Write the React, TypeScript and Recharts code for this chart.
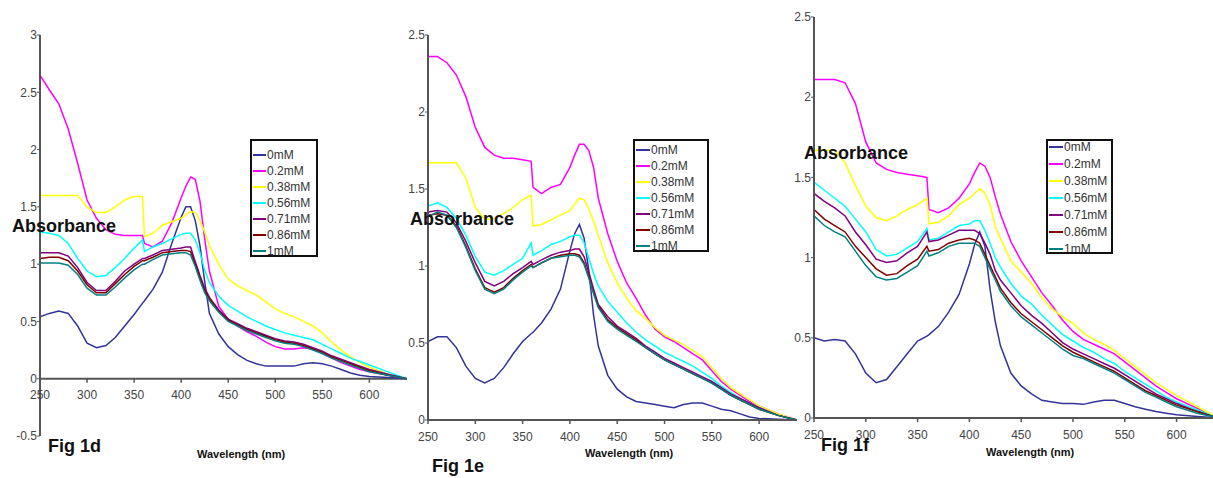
import React from 'react';
import { LineChart, Line, XAxis, YAxis, ReferenceLine, Legend } from 'recharts';

// wavelength grid (nm), shared by all three figures
const WAVELENGTHS = [
  250, 260, 270, 280, 290, 300, 310, 320, 330, 340, 350,
  359, 361,
  370, 380, 390, 400,
  405, 410, 415, 420, 425, 430,
  440, 450, 460, 470, 480, 490, 500, 510, 520, 530, 540, 550, 560, 570, 580, 590, 600,
  620, 640,
];

const SERIES_LABELS = ['0mM', '0.2mM', '0.38mM', '0.56mM', '0.71mM', '0.86mM', '1mM'];
const SERIES_COLORS = ['#333399', '#ff00ff', '#ffff00', '#00ffff', '#800080', '#800000', '#008080'];
const X_TICKS = [250, 300, 350, 400, 450, 500, 550, 600];
const Y_TICKS_D = [-0.5, 0, 0.5, 1, 1.5, 2, 2.5, 3];
const Y_TICKS_EF = [0, 0.5, 1, 1.5, 2, 2.5];

// Fig 1d
const d0 = [0.54, 0.57, 0.59, 0.57, 0.46, 0.31, 0.27, 0.29, 0.36, 0.46, 0.56, 0.66, 0.68, 0.78, 0.93, 1.18, 1.41, 1.5, 1.5, 1.38, 1.16, 0.85, 0.57, 0.39, 0.28, 0.21, 0.16, 0.13, 0.11, 0.11, 0.11, 0.11, 0.13, 0.14, 0.13, 0.11, 0.08, 0.05, 0.03, 0.02, 0.01, 0];
const d02 = [2.65, 2.52, 2.4, 2.18, 1.88, 1.56, 1.4, 1.3, 1.26, 1.25, 1.25, 1.25, 1.18, 1.15, 1.2, 1.36, 1.58, 1.68, 1.76, 1.74, 1.55, 1.22, 0.94, 0.63, 0.52, 0.46, 0.41, 0.37, 0.32, 0.28, 0.26, 0.26, 0.27, 0.26, 0.22, 0.18, 0.14, 0.11, 0.08, 0.06, 0.03, 0];
const d038 = [1.6, 1.6, 1.6, 1.6, 1.6, 1.5, 1.45, 1.45, 1.5, 1.56, 1.59, 1.59, 1.24, 1.27, 1.34, 1.37, 1.4, 1.43, 1.46, 1.45, 1.38, 1.28, 1.16, 1.0, 0.87, 0.81, 0.77, 0.73, 0.67, 0.61, 0.57, 0.54, 0.5, 0.46, 0.4, 0.32, 0.25, 0.19, 0.14, 0.1, 0.04, 0];
const d056 = [1.28, 1.27, 1.25, 1.18, 1.05, 0.94, 0.89, 0.9, 0.97, 1.05, 1.14, 1.21, 1.11, 1.15, 1.18, 1.22, 1.26, 1.27, 1.27, 1.21, 1.1, 0.95, 0.84, 0.72, 0.64, 0.59, 0.54, 0.5, 0.46, 0.43, 0.4, 0.38, 0.36, 0.34, 0.3, 0.26, 0.22, 0.18, 0.15, 0.12, 0.06, 0];
const d071 = [1.1, 1.1, 1.1, 1.07, 0.97, 0.84, 0.77, 0.77, 0.85, 0.94, 1.0, 1.05, 1.05, 1.08, 1.12, 1.13, 1.14, 1.15, 1.15, 1.02, 0.9, 0.79, 0.71, 0.6, 0.52, 0.48, 0.44, 0.41, 0.38, 0.35, 0.33, 0.32, 0.3, 0.27, 0.24, 0.2, 0.17, 0.14, 0.11, 0.08, 0.04, 0];
const d086 = [1.05, 1.06, 1.06, 1.03, 0.94, 0.82, 0.75, 0.75, 0.83, 0.91, 0.98, 1.03, 1.03, 1.06, 1.1, 1.11, 1.12, 1.12, 1.11, 1.0, 0.88, 0.77, 0.7, 0.59, 0.51, 0.47, 0.43, 0.4, 0.37, 0.34, 0.32, 0.31, 0.29, 0.26, 0.23, 0.19, 0.16, 0.13, 0.1, 0.07, 0.03, 0];
const d1 = [1.01, 1.01, 1.01, 0.99, 0.91, 0.79, 0.73, 0.73, 0.8, 0.88, 0.95, 1.0, 1.0, 1.04, 1.08, 1.09, 1.1, 1.1, 1.08, 0.98, 0.86, 0.75, 0.68, 0.58, 0.5, 0.46, 0.42, 0.39, 0.36, 0.33, 0.31, 0.3, 0.28, 0.25, 0.22, 0.18, 0.15, 0.12, 0.09, 0.06, 0.03, 0];

// Fig 1e
const e0 = [0.51, 0.54, 0.54, 0.47, 0.35, 0.27, 0.24, 0.27, 0.34, 0.43, 0.51, 0.56, 0.57, 0.63, 0.72, 0.85, 1.1, 1.21, 1.27, 1.18, 0.97, 0.68, 0.48, 0.29, 0.2, 0.15, 0.12, 0.11, 0.1, 0.09, 0.08, 0.1, 0.11, 0.11, 0.09, 0.07, 0.06, 0.04, 0.02, 0.01, 0.005, 0];
const e02 = [2.36, 2.36, 2.32, 2.24, 2.1, 1.9, 1.77, 1.72, 1.7, 1.7, 1.69, 1.68, 1.51, 1.47, 1.51, 1.53, 1.64, 1.72, 1.79, 1.79, 1.75, 1.64, 1.44, 1.21, 1.03, 0.89, 0.79, 0.68, 0.59, 0.54, 0.51, 0.47, 0.43, 0.39, 0.32, 0.25, 0.2, 0.16, 0.12, 0.09, 0.04, 0];
const e038 = [1.67, 1.67, 1.67, 1.67, 1.57, 1.38, 1.3, 1.31, 1.34, 1.38, 1.43, 1.46, 1.26, 1.27, 1.3, 1.33, 1.36, 1.4, 1.44, 1.43, 1.37, 1.29, 1.2, 1.02, 0.89, 0.79, 0.71, 0.66, 0.6, 0.55, 0.52, 0.49, 0.45, 0.41, 0.34, 0.27, 0.21, 0.17, 0.13, 0.09, 0.04, 0];
const e056 = [1.39, 1.41, 1.38, 1.31, 1.2, 1.06, 0.96, 0.94, 0.97, 1.01, 1.05, 1.15, 1.07, 1.1, 1.14, 1.16, 1.19, 1.2, 1.2, 1.15, 1.05, 0.95, 0.87, 0.77, 0.7, 0.63, 0.57, 0.52, 0.48, 0.44, 0.41, 0.38, 0.35, 0.31, 0.27, 0.22, 0.18, 0.14, 0.11, 0.08, 0.03, 0];
const e071 = [1.35, 1.36, 1.35, 1.28, 1.16, 1.02, 0.9, 0.87, 0.9, 0.95, 0.99, 1.03, 1.01, 1.04, 1.07, 1.09, 1.1, 1.11, 1.11, 1.06, 0.96, 0.85, 0.75, 0.67, 0.61, 0.57, 0.53, 0.48, 0.44, 0.4, 0.37, 0.34, 0.31, 0.28, 0.25, 0.21, 0.17, 0.14, 0.11, 0.08, 0.03, 0];
const e086 = [1.33, 1.34, 1.33, 1.26, 1.13, 0.98, 0.86, 0.83, 0.86, 0.92, 0.97, 1.01, 0.99, 1.02, 1.05, 1.07, 1.08, 1.08, 1.07, 1.02, 0.93, 0.83, 0.74, 0.65, 0.6, 0.56, 0.52, 0.47, 0.43, 0.39, 0.36, 0.33, 0.3, 0.27, 0.24, 0.2, 0.16, 0.13, 0.1, 0.07, 0.03, 0];
const e1 = [1.32, 1.35, 1.33, 1.25, 1.12, 0.97, 0.85, 0.82, 0.85, 0.91, 0.96, 1.0, 0.99, 1.02, 1.05, 1.06, 1.07, 1.07, 1.06, 1.01, 0.92, 0.82, 0.73, 0.64, 0.59, 0.55, 0.51, 0.47, 0.43, 0.39, 0.36, 0.33, 0.3, 0.27, 0.24, 0.2, 0.16, 0.13, 0.1, 0.07, 0.03, 0];

// Fig 1f
const f0 = [0.5, 0.48, 0.49, 0.48, 0.4, 0.28, 0.22, 0.24, 0.32, 0.4, 0.48, 0.51, 0.52, 0.57, 0.66, 0.77, 0.96, 1.08, 1.16, 1.07, 0.8, 0.6, 0.45, 0.28, 0.2, 0.15, 0.11, 0.1, 0.09, 0.09, 0.085, 0.1, 0.11, 0.11, 0.09, 0.07, 0.055, 0.04, 0.03, 0.02, 0.01, 0];
const f02 = [2.11, 2.11, 2.11, 2.09, 1.96, 1.72, 1.59, 1.55, 1.53, 1.52, 1.51, 1.5, 1.3, 1.28, 1.31, 1.37, 1.46, 1.53, 1.59, 1.57, 1.5, 1.38, 1.27, 1.1, 0.98, 0.88, 0.78, 0.7, 0.61, 0.54, 0.49, 0.46, 0.43, 0.4, 0.35, 0.3, 0.25, 0.2, 0.16, 0.12, 0.06, 0];
const f038 = [1.67, 1.67, 1.67, 1.59, 1.45, 1.32, 1.25, 1.23, 1.26, 1.3, 1.33, 1.37, 1.21, 1.22, 1.26, 1.33, 1.37, 1.4, 1.43, 1.4, 1.33, 1.19, 1.12, 0.98, 0.91, 0.84, 0.75, 0.68, 0.63, 0.59, 0.53, 0.49, 0.46, 0.42, 0.37, 0.32, 0.27, 0.22, 0.18, 0.14, 0.07, 0];
const f056 = [1.47, 1.42, 1.37, 1.32, 1.24, 1.16, 1.05, 1.01, 1.02, 1.06, 1.1, 1.18, 1.11, 1.12, 1.16, 1.2, 1.21, 1.23, 1.23, 1.17, 1.09, 1.0, 0.94, 0.84, 0.76, 0.71, 0.64, 0.58, 0.52, 0.48, 0.44, 0.41, 0.37, 0.34, 0.29, 0.25, 0.21, 0.17, 0.13, 0.1, 0.05, 0];
const f071 = [1.4, 1.35, 1.31, 1.26, 1.16, 1.08, 0.99, 0.97, 0.98, 1.03, 1.07, 1.16, 1.1, 1.11, 1.14, 1.17, 1.17, 1.17, 1.15, 1.09, 1.02, 0.92, 0.86, 0.78, 0.7, 0.64, 0.59, 0.53, 0.47, 0.43, 0.4, 0.37, 0.34, 0.31, 0.27, 0.23, 0.19, 0.15, 0.12, 0.09, 0.04, 0];
const f086 = [1.3, 1.24, 1.2, 1.16, 1.07, 1.0, 0.93, 0.89, 0.9, 0.95, 0.99, 1.07, 1.04, 1.05, 1.09, 1.11, 1.12, 1.11, 1.09, 1.02, 0.95, 0.88, 0.81, 0.72, 0.65, 0.6, 0.55, 0.5, 0.45, 0.41, 0.38, 0.35, 0.32, 0.29, 0.25, 0.21, 0.17, 0.14, 0.11, 0.08, 0.04, 0];
const f1 = [1.26, 1.2, 1.16, 1.13, 1.04, 0.95, 0.88, 0.86, 0.87, 0.91, 0.95, 1.04, 1.01, 1.03, 1.07, 1.09, 1.09, 1.09, 1.07, 1.0, 0.93, 0.86, 0.79, 0.7, 0.63, 0.58, 0.53, 0.48, 0.43, 0.39, 0.37, 0.34, 0.31, 0.28, 0.24, 0.2, 0.16, 0.13, 0.1, 0.07, 0.03, 0];

const buildRows = (series: number[][]) =>
  WAVELENGTHS.map((wl, i) => {
    const row: Record<string, number> = { wl };
    series.forEach((s, k) => { row[`s${k}`] = s[i]; });
    return row;
  });

const rowsD = buildRows([d0, d02, d038, d056, d071, d086, d1]);
const rowsE = buildRows([e0, e02, e038, e056, e071, e086, e1]);
const rowsF = buildRows([f0, f02, f038, f056, f071, f086, f1]);

const FONT = '"Liberation Sans", Arial, sans-serif';
const AXIS_COLOR = '#555';
const TICK_COLOR = '#444';

type LegendSpec = { left: number; top: number; width: number; height: number; rowH: number; padTop: number; lineW: number };

const LegendBox = ({ spec }: { spec: LegendSpec }) => (
  <div style={{
    width: spec.width, height: spec.height, boxSizing: 'border-box', border: '2px solid #111',
    background: '#fff', overflow: 'hidden', fontFamily: FONT,
  }}>
    <div style={{ marginTop: spec.padTop }}>
      {SERIES_LABELS.map((label, i) => (
        <div key={label} style={{ display: 'flex', alignItems: 'center', height: spec.rowH, fontSize: 12, color: '#333', whiteSpace: 'nowrap', paddingLeft: 1 }}>
          <span style={{ display: 'inline-block', width: spec.lineW, height: 2, background: SERIES_COLORS[i], marginRight: 1 }} />
          {label}
        </div>
      ))}
    </div>
  </div>
);

// x tick drawn on the zero line instead of the bottom of the plot (Fig 1d)
const makeShiftedTick = (shift: number) => (props: any) => {
  const { x, y, payload } = props;
  const y0 = y - shift;
  return (
    <g>
      <line x1={x} x2={x} y1={y0} y2={y0 + 4} stroke={AXIS_COLOR} strokeWidth={1.5} />
      <text x={x} y={y0 + 12} dy="0.71em" textAnchor="middle" fontSize={12} fill={TICK_COLOR}>{payload.value}</text>
    </g>
  );
};

type PanelProps = {
  rows: Record<string, number>[];
  left: number; width: number; height: number;
  margin: { top: number; right: number; bottom: number; left: number };
  yAxisWidth: number; xAxisHeight: number;
  yDomain: [number, number]; yTicks: number[];
  axisAtZero?: boolean;
  legend: LegendSpec;
};

const Panel = ({ rows, left, width, height, margin, yAxisWidth, xAxisHeight, yDomain, yTicks, axisAtZero, legend }: PanelProps) => {
  const plotH = height - margin.top - margin.bottom - xAxisHeight;
  const shift = plotH * (0 - yDomain[0]) / (yDomain[1] - yDomain[0]);
  return (
    <div style={{ position: 'absolute', left, top: 0 }}>
      <LineChart width={width} height={height} data={rows} margin={margin}>
        {axisAtZero && <ReferenceLine y={0} stroke={AXIS_COLOR} strokeWidth={2} />}
        <XAxis
          dataKey="wl" type="number" domain={[250, 640]} ticks={X_TICKS} allowDataOverflow
          height={xAxisHeight}
          axisLine={axisAtZero ? false : { stroke: AXIS_COLOR, strokeWidth: 2 }}
          tickLine={axisAtZero ? false : { stroke: AXIS_COLOR, strokeWidth: 1.5 }}
          tickSize={axisAtZero ? 0 : 4} tickMargin={axisAtZero ? 0 : 8}
          tick={axisAtZero ? makeShiftedTick(shift) : { fontSize: 12, fill: TICK_COLOR }}
        />
        <YAxis
          type="number" domain={yDomain} ticks={yTicks} width={yAxisWidth} allowDataOverflow
          axisLine={{ stroke: AXIS_COLOR, strokeWidth: 2 }} tickLine={{ stroke: AXIS_COLOR }}
          tickSize={3} tickMargin={0} tick={{ fontSize: 12, fill: TICK_COLOR }}
        />
        <Legend
          layout="vertical" align="center" verticalAlign="middle"
          width={legend.width} height={legend.height}
          wrapperStyle={{ left: legend.left - left, top: legend.top, width: legend.width, height: legend.height }}
          content={() => <LegendBox spec={legend} />}
        />
        {SERIES_LABELS.map((label, k) => (
          <Line key={label} name={label} dataKey={`s${k}`} type="linear" stroke={SERIES_COLORS[k]}
            strokeWidth={1.5} dot={false} activeDot={false} isAnimationActive={false} />
        ))}
      </LineChart>
    </div>
  );
};

const textStyle = (left: number, top: number, size: number): React.CSSProperties => ({
  position: 'absolute', left, top, fontSize: size, fontWeight: 'bold', lineHeight: 1,
  whiteSpace: 'nowrap', fontFamily: FONT, color: '#111',
});

export default function App() {
  return (
    <div style={{ position: 'absolute', left: 0, top: 0, width: 1213, height: 478, overflow: 'hidden', background: '#fff', fontFamily: FONT }}>
      <Panel
        rows={rowsD} left={0} width={420} height={478}
        margin={{ top: 35, right: 13, bottom: 22, left: 0 }} yAxisWidth={40} xAxisHeight={20}
        yDomain={[-0.5, 3]} yTicks={Y_TICKS_D} axisAtZero
        legend={{ left: 250, top: 139, width: 68, height: 118, rowH: 16, padTop: 6, lineW: 13 }}
      />
      <Panel
        rows={rowsE} left={390} width={420} height={478}
        margin={{ top: 35, right: 13, bottom: 28, left: 0 }} yAxisWidth={38} xAxisHeight={30}
        yDomain={[0, 2.5]} yTicks={Y_TICKS_EF}
        legend={{ left: 633, top: 139, width: 76, height: 113, rowH: 16, padTop: 1, lineW: 14 }}
      />
      <Panel
        rows={rowsF} left={776} width={460} height={478}
        margin={{ top: 17, right: 18, bottom: 30, left: 0 }} yAxisWidth={38} xAxisHeight={30}
        yDomain={[0, 2.5]} yTicks={Y_TICKS_EF}
        legend={{ left: 1046, top: 139, width: 67, height: 115, rowH: 17, padTop: -3, lineW: 14 }}
      />

      <div style={textStyle(12, 217, 18)}>Absorbance</div>
      <div style={textStyle(410, 210, 18)}>Absorbance</div>
      <div style={textStyle(804, 144, 18)}>Absorbance</div>

      <div style={textStyle(48, 437, 18)}>Fig 1d</div>
      <div style={textStyle(432, 457, 18)}>Fig 1e</div>
      <div style={textStyle(821, 436, 18)}>Fig 1f</div>

      <div style={textStyle(197, 449, 11)}>Wavelength (nm)</div>
      <div style={textStyle(585, 448, 11)}>Wavelength (nm)</div>
      <div style={textStyle(986, 447, 11)}>Wavelength (nm)</div>
    </div>
  );
}
